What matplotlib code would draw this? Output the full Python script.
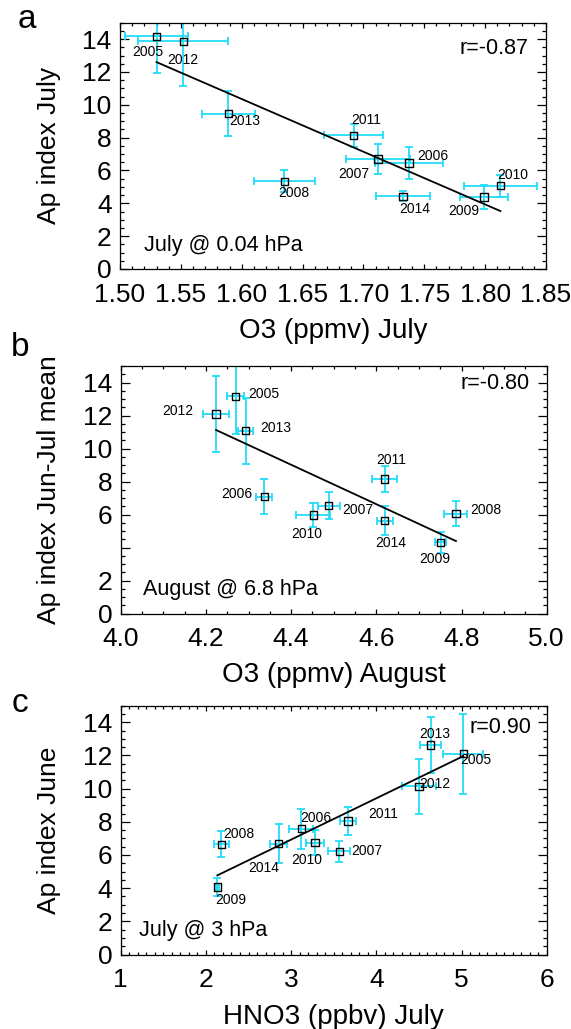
import matplotlib
matplotlib.use("Agg")
import matplotlib.pyplot as plt
from matplotlib.ticker import MultipleLocator, FixedLocator, FixedFormatter

plt.rcParams['font.family'] = ['Liberation Sans', 'DejaVu Sans']

# ---------------- Panel a ----------------
a_years = ['2005', '2012', '2013', '2008', '2011', '2007', '2006', '2014', '2009', '2010']
a_x = [1.530, 1.552, 1.589, 1.635, 1.692, 1.712, 1.7375, 1.7325, 1.799, 1.8125]
a_y = [14.16, 13.86, 9.47, 5.33, 8.14, 6.69, 6.46, 4.42, 4.38, 5.07]
a_xerr = [0.026, 0.037, 0.022, 0.025, 0.024, 0.026, 0.028, 0.022, 0.020, 0.030]
a_yerr = [2.2, 2.7, 1.35, 0.67, 0.70, 0.93, 0.97, 0.30, 0.73, 0.67]
a_fit_x = [1.530, 1.8125]
a_fit_y = [12.6, 3.53]
a_r = 'r=-0.87'
a_note = 'July @ 0.04 hPa'
a_xlabel = 'O3 (ppmv) July'
a_ylabel = 'Ap index July'
a_xticks = [1.50, 1.55, 1.60, 1.65, 1.70, 1.75, 1.80, 1.85]
a_xticklabels = ['1.50', '1.55', '1.60', '1.65', '1.70', '1.75', '1.80', '1.85']
a_yticklabels = ['0', '2', '4', '6', '8', '10', '12', '14']
# label offsets (pixels) relative to point
a_lab_off = [(-9, -16), (0, -19), (16, -7), (9, -12), (12, 15), (-24, -15),
             (24, 7), (12, -13), (-20, -14), (12, 11)]

# ---------------- Panel b ----------------
b_years = ['2012', '2005', '2013', '2006', '2010', '2007', '2011', '2014', '2009', '2008']
b_x = [4.224, 4.270, 4.293, 4.337, 4.452, 4.488, 4.620, 4.620, 4.751, 4.787]
b_y = [12.09, 13.16, 11.08, 7.08, 5.98, 6.54, 8.15, 5.63, 4.32, 6.06]
b_xerr = [0.030, 0.020, 0.018, 0.019, 0.040, 0.026, 0.029, 0.019, 0.013, 0.027]
b_yerr = [2.3, 2.3, 2.0, 1.07, 0.73, 0.80, 0.78, 0.90, 0.63, 0.77]
b_fit_x = [4.224, 4.787]
b_fit_y = [11.12, 4.39]
b_r = 'r=-0.80'
b_note = 'August @ 6.8 hPa'
b_xlabel = 'O3 (ppmv) August'
b_ylabel = 'Ap index Jun-Jul mean'
b_xticks = [4.0, 4.2, 4.4, 4.6, 4.8, 5.0]
b_xticklabels = ['4.0', '4.2', '4.4', '4.6', '4.8', '5.0']
b_yticklabels = ['0', '2', '', '6', '8', '10', '12', '14']
b_lab_off = [(-38, 3), (28, 2), (30, 3), (-27, 3), (-7, -19), (29, -4),
             (6, 19), (6, -22), (-6, -17), (30, 4)]

# ---------------- Panel c ----------------
c_years = ['2009', '2008', '2014', '2006', '2010', '2007', '2011', '2012', '2013', '2005']
c_x = [2.134, 2.181, 2.854, 3.120, 3.280, 3.566, 3.668, 4.500, 4.638, 5.021]
c_y = [4.06, 6.65, 6.69, 7.58, 6.75, 6.21, 8.05, 10.13, 12.63, 12.10]
c_xerr = [0.02, 0.086, 0.10, 0.14, 0.11, 0.13, 0.09, 0.20, 0.12, 0.235]
c_yerr = [0.55, 0.77, 1.2, 1.2, 0.74, 0.65, 0.86, 1.68, 1.68, 2.4]
c_fit_x = [2.134, 5.021]
c_fit_y = [4.77, 11.96]
c_r = 'r=0.90'
c_note = 'July @ 3 hPa'
c_xlabel = 'HNO3 (ppbv) July'
c_ylabel = 'Ap index June'
c_xticks = [1, 2, 3, 4, 5, 6]
c_xticklabels = ['1', '2', '3', '4', '5', '6']
c_yticklabels = ['0', '2', '4', '6', '8', '10', '12', '14']
c_lab_off = [(13, -13), (17, 10), (-15, -24), (14, 11), (-8, -17), (27, 0),
             (35, 7), (16, 2), (4, 11), (13, -6)]

yticks = [0, 2, 4, 6, 8, 10, 12, 14]

CYAN = '#22dcfa'
W, H = 571, 1029
fig = plt.figure(figsize=(W / 100, H / 100), dpi=100)

panels = [
    dict(rect=(120, 22.7, 546, 269), letter='a', letter_pos=(27, 28),
         xs=a_x, ys=a_y, xe=a_xerr, ye=a_yerr, years=a_years, off=a_lab_off,
         fx=a_fit_x, fy=a_fit_y, r=a_r, rpos=(0.958, 0.896), note=a_note, npos=(0.057, 0.095),
         xl=a_xlabel, yl=a_ylabel, xt=a_xticks, xtl=a_xticklabels, ytl=a_yticklabels,
         xlim=(1.50, 1.85), xminor=0.01),
    dict(rect=(120.7, 366, 546.7, 613.5), letter='b', letter_pos=(20, 356),
         xs=b_x, ys=b_y, xe=b_xerr, ye=b_yerr, years=b_years, off=b_lab_off,
         fx=b_fit_x, fy=b_fit_y, r=b_r, rpos=(0.961, 0.930), note=b_note, npos=(0.053, 0.098),
         xl=b_xlabel, yl=b_ylabel, xt=b_xticks, xtl=b_xticklabels, ytl=b_yticklabels,
         xlim=(4.0, 5.0), xminor=0.05),
    dict(rect=(120.7, 705.7, 546.7, 954.5), letter='c', letter_pos=(20, 712),
         xs=c_x, ys=c_y, xe=c_xerr, ye=c_yerr, years=c_years, off=c_lab_off,
         fx=c_fit_x, fy=c_fit_y, r=c_r, rpos=(0.965, 0.913), note=c_note, npos=(0.043, 0.095),
         xl=c_xlabel, yl=c_ylabel, xt=c_xticks, xtl=c_xticklabels, ytl=c_yticklabels,
         xlim=(1, 6), xminor=0.1),
]

for p in panels:
    l, t, r, b = p['rect']
    ax = fig.add_axes([l / W, 1 - b / H, (r - l) / W, (b - t) / H])
    ax.errorbar(p['xs'], p['ys'], xerr=p['xe'], yerr=p['ye'], fmt='none',
                ecolor=CYAN, elinewidth=1.3, capsize=3, capthick=1.3, zorder=2)
    ax.plot(p['fx'], p['fy'], color='black', lw=1.3, zorder=3)
    ax.scatter(p['xs'], p['ys'], marker='s', s=28, facecolors='none',
               edgecolors='black', linewidths=1.0, zorder=4)
    for x, y, yr, (dx, dy) in zip(p['xs'], p['ys'], p['years'], p['off']):
        ax.annotate(yr, (x, y), xytext=(dx, dy), textcoords='offset pixels',
                    ha='center', va='center', fontsize=10, zorder=5)
    ax.text(p['rpos'][0], p['rpos'][1], p['r'], transform=ax.transAxes,
            ha='right', va='center', fontsize=15.5)
    ax.text(p['npos'][0], p['npos'][1], p['note'], transform=ax.transAxes,
            ha='left', va='center', fontsize=15.5)
    ax.set_xlim(*p['xlim'])
    ax.set_ylim(0, 15)
    ax.xaxis.set_major_locator(FixedLocator(p['xt']))
    ax.xaxis.set_major_formatter(FixedFormatter(p['xtl']))
    ax.xaxis.set_minor_locator(MultipleLocator(p['xminor']))
    ax.yaxis.set_major_locator(FixedLocator(yticks))
    ax.yaxis.set_major_formatter(FixedFormatter(p['ytl']))
    ax.yaxis.set_minor_locator(MultipleLocator(0.5))
    ax.tick_params(axis='both', which='both', direction='in', top=True, right=True,
                   labelsize=19, width=0.9)
    ax.tick_params(axis='y', which='major', length=6.5, pad=6)
    ax.tick_params(axis='y', which='minor', length=3.2)
    ax.tick_params(axis='x', which='major', length=3.8, pad=10)
    ax.tick_params(axis='x', which='minor', length=1.9)
    for s in ax.spines.values():
        s.set_linewidth(0.9)
    ax.set_xlabel(p['xl'], fontsize=20)
    ax.xaxis.label.set_va('center')
    ax.xaxis.set_label_coords(0.5, -62 / (b - t))
    ax.set_ylabel(p['yl'], fontsize=19)
    ax.yaxis.label.set_va('center')
    ax.yaxis.set_label_coords((49 - l) / (r - l), 0.5)
    fig.text(p['letter_pos'][0] / W, 1 - p['letter_pos'][1] / H, p['letter'],
             fontsize=24, ha='center', va='baseline')

fig.savefig('out.png', dpi=100)
